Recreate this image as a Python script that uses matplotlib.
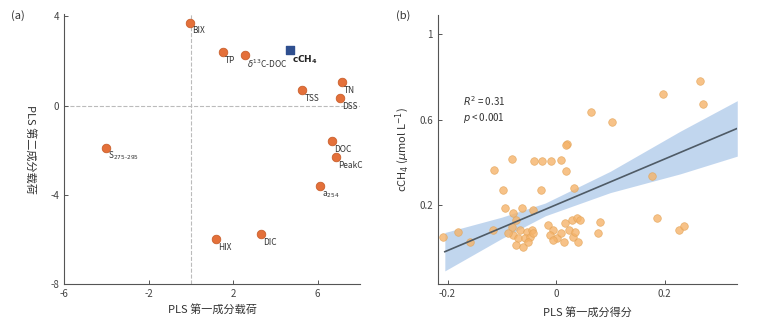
import numpy as np
import matplotlib
matplotlib.use("Agg")
import matplotlib.pyplot as plt

plt.rcParams['font.family'] = ['Noto Sans CJK SC', 'DejaVu Sans']
plt.rcParams['axes.unicode_minus'] = False
plt.rcParams['mathtext.fontset'] = 'dejavusans'

# (a) PLS 载荷
var_names = ['BIX', 'TP', r'$\delta^{13}$C-DOC', 'TSS', 'TN', 'DSS', 'DOC', 'PeakC',
             r'S$_{275\text{-}295}$', r'a$_{254}$', 'HIX', 'DIC']
load_x = [-0.05, 1.5, 2.56, 5.27, 7.16, 7.08, 6.66, 6.85, -4.03, 6.09, 1.19, 3.31]
load_y = [3.72, 2.41, 2.25, 0.70, 1.05, 0.34, -1.60, -2.30, -1.90, -3.63, -6.00, -5.75]
ch4_x, ch4_y = [4.69], [2.47]

# (b) 得分 vs cCH4
score_x = [0.265, 0.197, 0.271, 0.064, 0.104, 0.020, -0.082, -0.114, -0.040, -0.025,
           -0.009, 0.009, 0.018, 0.018, -0.098, -0.028, 0.034, 0.177, -0.094, -0.062,
           0.186, 0.081, 0.078, 0.227, 0.236, -0.181, -0.209, -0.159,
           -0.079, -0.073, -0.082, -0.066, -0.054, -0.045, -0.079, -0.070, -0.057, -0.048,
           -0.073, -0.060, -0.051, -0.042, -0.088, -0.116, -0.042,
           -0.014, -0.005, -0.011, 0.001, 0.010, 0.017, 0.023, 0.029, 0.038, 0.044,
           0.032, 0.041, 0.014, -0.005, 0.035]
score_y = [0.779, 0.720, 0.674, 0.638, 0.588, 0.485, 0.415, 0.365, 0.404, 0.404,
           0.404, 0.412, 0.482, 0.357, 0.271, 0.271, 0.279, 0.336, 0.185, 0.185,
           0.138, 0.122, 0.070, 0.083, 0.102, 0.075, 0.052, 0.028,
           0.161, 0.130, 0.099, 0.083, 0.075, 0.083, 0.059, 0.044, 0.044, 0.052,
           0.013, 0.005, 0.028, 0.067, 0.067, 0.083, 0.177,
           0.106, 0.083, 0.059, 0.044, 0.067, 0.114, 0.083, 0.130, 0.138, 0.130,
           0.052, 0.028, 0.028, 0.036, 0.075]
fit_x = [-0.205, 0.334]
fit_y = [-0.019, 0.559]
band_x = [-0.205, -0.1, -0.02, 0.1, 0.229, 0.334]
band_lo = [-0.109, 0.043, 0.149, 0.258, 0.346, 0.429]
band_hi = [0.071, 0.143, 0.209, 0.358, 0.546, 0.689]

fig = plt.figure(figsize=(7.64, 3.36), dpi=100)
ax1 = fig.add_axes([0.084, 0.155, 0.387, 0.803])
ax2 = fig.add_axes([0.573, 0.155, 0.392, 0.800])

tick_col = '#444444'
for ax in (ax1, ax2):
    for s in ['top', 'right']:
        ax.spines[s].set_visible(False)
    for s in ['left', 'bottom']:
        ax.spines[s].set_color('#555555')
        ax.spines[s].set_linewidth(0.8)
    ax.tick_params(direction='in', length=3, width=0.7, labelsize=7,
                   colors='#555555', labelcolor=tick_col)

# ---- (a)
ax1.axvline(0, color='#bbbbbb', ls='--', lw=0.8, zorder=0)
ax1.axhline(0, color='#bbbbbb', ls='--', lw=0.8, zorder=0)
ax1.scatter(load_x, load_y, s=38, color='#E4703A', edgecolor='#c95f2c', lw=0.6, zorder=3)
ax1.scatter(ch4_x, ch4_y, s=30, marker='s', color='#2f4f8f', zorder=3)
for name, x, y in zip(var_names, load_x, load_y):
    ax1.annotate(name, (x, y), xytext=(1.5, -6), textcoords='offset points',
                 fontsize=6, color='#333333', ha='left', va='center')
ax1.annotate(r'$\mathbf{cCH_4}$', (ch4_x[0], ch4_y[0]), xytext=(1.5, -7),
             textcoords='offset points', fontsize=6.5, color='#222222',
             ha='left', va='center')
ax1.set_xlim(-6, 8)
ax1.set_ylim(-8, 4.1)
ax1.set_xticks([-6, -2, 2, 6])
ax1.set_yticks([4, 0, -4, -8])
ax1.set_xlabel('PLS 第一成分载荷', fontsize=8, color='#333333', labelpad=4)
ax1.set_ylabel('PLS 第二成分载荷', fontsize=8, color='#333333', rotation=270, labelpad=18)
fig.text(0.015, 0.945, '(a)', fontsize=8, color='#333333')

# ---- (b)
ax2.fill_between(band_x, band_lo, band_hi, color='#b7cfec', alpha=0.85, lw=0, zorder=1)
ax2.scatter(score_x, score_y, s=30, color='#F5B36A', edgecolor='#e3a458', lw=0.5,
            alpha=0.8, zorder=2)
ax2.plot(fit_x, fit_y, color='#4f5b66', lw=1.2, zorder=3)
ax2.text(-0.171, 0.685, r'$R^2$ = 0.31', fontsize=7, color='#333333', va='center')
ax2.text(-0.171, 0.607, r'$p$ < 0.001', fontsize=7, color='#333333', va='center')
ax2.set_xlim(-0.218, 0.334)
ax2.set_ylim(-0.17, 1.09)
ax2.set_xticks([-0.2, 0, 0.2])
ax2.set_xticklabels(['-0.2', '0', '0.2'])
ax2.set_yticks([0.2, 0.6, 1])
ax2.set_yticklabels(['0.2', '0.6', '1'])
ax2.set_xlabel('PLS 第一成分得分', fontsize=8, color='#333333', labelpad=6)
ax2.set_ylabel(r'cCH$_4$ ($\mu$mol L$^{-1}$)', fontsize=8, color='#333333', labelpad=6)
fig.text(0.518, 0.945, '(b)', fontsize=8, color='#333333')

fig.savefig('out.png', dpi=100)
